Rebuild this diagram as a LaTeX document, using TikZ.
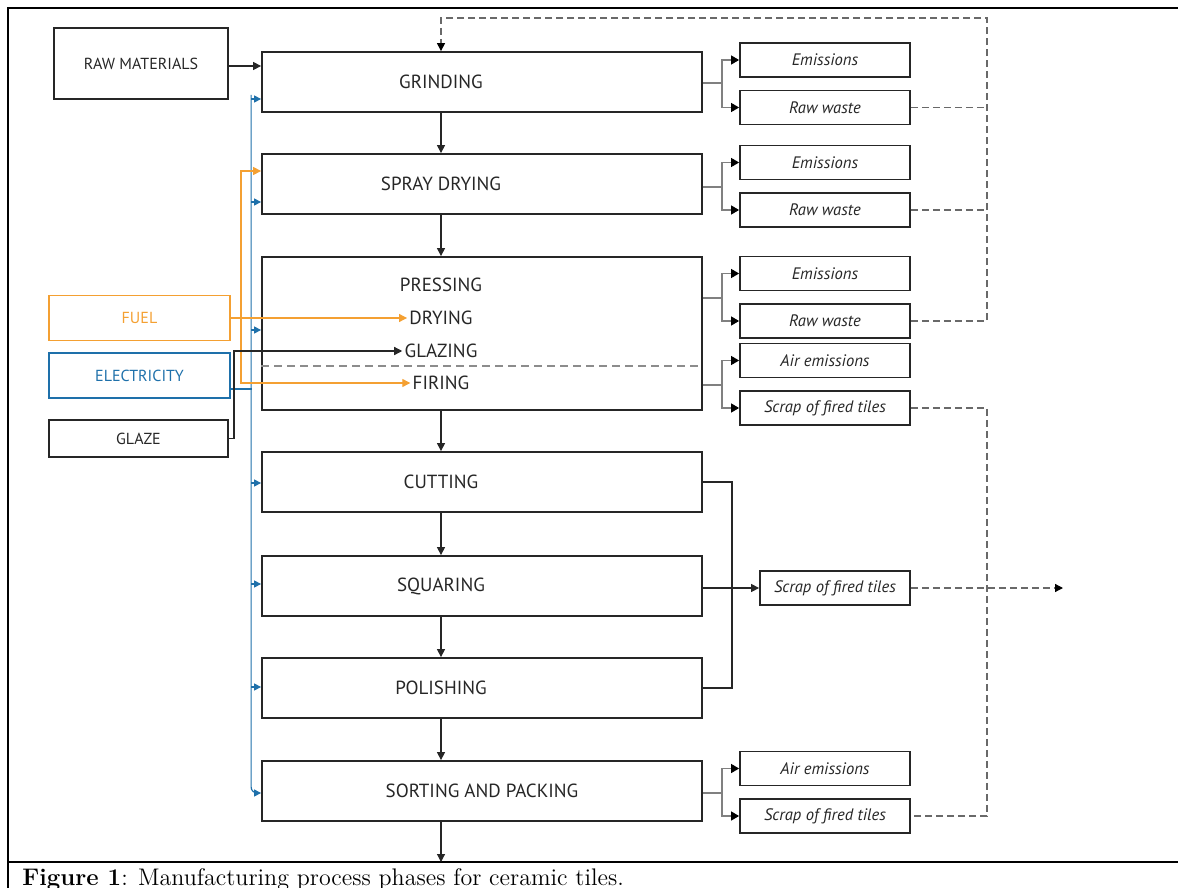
\documentclass[tikz,border=0pt]{standalone}
\usepackage{fontspec}
\newfontfamily\boxfont{PT Sans}
\usetikzlibrary{positioning, arrows.meta, calc}
\definecolor{fuelorange}{RGB}{244,160,50}
\definecolor{elecblue}{RGB}{30,112,170}
\definecolor{wastegray}{RGB}{105,105,105}

\begin{document}
\begin{tikzpicture}[
    x=0.5pt, y=-0.5pt,
    stage/.style={
        rectangle, draw=black!85, line width=0.9pt,
        minimum width=220pt, minimum height=30pt, inner sep=0pt
    },
    stagetxt/.style={
        font=\boxfont\fontsize{9.5}{11}\selectfont, text=black!85, inner sep=1pt
    },
    inbox/.style={
        rectangle, draw=black!85, line width=0.9pt, inner sep=0pt,
        minimum width=90.5pt, minimum height=22.5pt,
        font=\boxfont\fontsize{8}{10}\selectfont, text=black!85
    },
    outbox/.style={
        rectangle, draw=black!85, line width=0.9pt, inner sep=0pt,
        minimum width=85pt, minimum height=17pt,
        font=\boxfont\itshape\fontsize{8.3}{10}\selectfont, text=black!85
    },
    flow/.style={-{Triangle[length=4pt, width=4pt]}, line width=0.6pt, black!85},
    plain/.style={line width=0.6pt, black!85},
    branch/.style={line width=0.6pt, black!50},
    outarr/.style={-{Triangle[length=4pt, width=4.5pt, color=black]}, line width=0.6pt, black!50},
    oline/.style={line width=0.6pt, fuelorange},
    oarrow/.style={-{Triangle[length=4pt, width=4pt]}, line width=0.6pt, fuelorange},
    eline/.style={line width=0.6pt, elecblue},
    earrow/.style={-{Triangle[length=3.5pt, width=3.5pt]}, line width=0.6pt, elecblue},
    sepline/.style={line width=0.6pt, black!45, dash pattern=on 4pt off 2.5pt},
    waste/.style={line width=0.6pt, wastegray, dash pattern=on 3.5pt off 2pt},
    wastearr/.style={waste, -{Triangle[length=4pt, width=4pt, color=black]}},
    frame/.style={line width=1.4pt, black}
]
\useasboundingbox (0,0) rectangle (1178,888);

% --- frame and caption ---
\draw[frame] (8,888) -- (8,8) -- (1178,8);
\draw[frame] (8,862) -- (1178,862);
\node[anchor=base west, inner sep=0pt, font=\fontsize{12}{14}\selectfont] (caption) at (22,885)
    {\textbf{Figure 1}: Manufacturing process phases for ceramic tiles.};

\coordinate (spine) at (441,0);

% --- main stages ---
\node[stage] (grind)    at (482,82)    {};
\node[stage] (spray)    at (482,184)   {};
\node[stage, minimum height=76.5pt] (press) at (482,333.5) {};
\node[stage] (cut)      at (482,482)   {};
\node[stage] (squar)    at (482,586)   {};
\node[stage] (polish)   at (482,688)   {};
\node[stage] (sortpack) at (482,791)   {};

\node[stagetxt] (grindtxt)  at (grind -| spine)  {GRINDING};
\node[stagetxt] (spraytxt)  at (spray -| spine)  {SPRAY DRYING};
\node[stagetxt] (presstxt)  at (441,285)         {PRESSING};
\node[stagetxt] (drylbl)    at (441,318)         {DRYING};
\node[stagetxt] (glzlbl)    at (441,351)         {GLAZING};
\node[stagetxt] (firlbl)    at (441,383)         {FIRING};
\node[stagetxt] (cuttxt)    at (cut -| spine)    {CUTTING};
\node[stagetxt] (squartxt)  at (squar -| spine)  {SQUARING};
\node[stagetxt] (polishtxt) at (polish -| spine) {POLISHING};
\node[stagetxt] (sorttxt)   at (sortpack)        {SORTING AND PACKING};

% --- inputs ---
\node[inbox, minimum width=87pt, minimum height=35.5pt] (raw) at (141,63.5) {RAW MATERIALS};
\node[inbox, draw=fuelorange, text=fuelorange] (fuel) at (139.5,318) {FUEL};
\node[inbox, draw=elecblue, text=elecblue] (elec) at (139.5,375.5) {ELECTRICITY};
\node[inbox, minimum width=89.5pt, minimum height=18.5pt] (glaze) at (138.5,438.5) {GLAZE};

% --- outputs ---
\node[outbox] (em1)  at (825,60)    {Emissions};
\node[outbox] (rw1)  at (825,107.5) {Raw waste};
\node[outbox] (em2)  at (825,162.5) {Emissions};
\node[outbox] (rw2)  at (825,210)   {Raw waste};
\node[outbox] (em3)  at (825,273.5) {Emissions};
\node[outbox] (rw3)  at (825,321)   {Raw waste};
\node[outbox] (air1) at (825,360.5) {Air emissions};
\node[outbox] (scr1) at (825,408)   {Scrap of fired tiles};
\node[outbox, minimum width=75pt] (scr2) at (835,588) {Scrap of fired tiles};
\node[outbox] (air2) at (825,768.5) {Air emissions};
\node[outbox] (scr3) at (825,816)   {Scrap of fired tiles};

% --- main flow ---
\foreach \a/\b in {grind/spray, spray/press, press/cut, cut/squar, squar/polish, polish/sortpack}
    \draw[flow] (\a.south -| spine) -- (\b.north -| spine);
\coordinate (outlet) at (441,862);
\draw[flow] (sortpack.south -| spine) -- (outlet);
\draw[flow] (raw.east |- 0,66) -- (grind.west |- 0,66);

% --- electricity bus ---
\coordinate (ebus) at (252,389);
\draw[eline] (elec.east |- ebus) -- (ebus);
\draw[earrow, rounded corners=3pt] ($(grind.west)+(-10,13)$) -- ($(sortpack.west)+(-10,2)$) -- ($(sortpack.west)+(0,2)$);
\foreach \s/\dy in {grind/17, spray/18, press/-3.5, cut/1, squar/-2, polish/-1}
    \draw[earrow] ($(\s.west)+(-10,\dy)$) -- ($(\s.west)+(0,\dy)$);

% --- fuel ---
\coordinate (ojoin) at (241,318);
\draw[oarrow] (fuel.east) -- (drylbl.west);
\draw[oarrow] (ojoin) |- ($(spray.west)+(0,-13)$);
\draw[oarrow] (ojoin) |- (firlbl.west);

% --- glaze ---
\draw[flow] (glaze.east) -- ++(5,0) |- (glzlbl.west);

% --- firing line inside pressing ---
\draw[sepline] ($(press.west)+(0,32.5)$) -- ($(press.east)+(0,32.5)$);

% --- emissions and waste ---
\foreach \s/\dy/\a/\b in {grind/1/em1/rw1, spray/3/em2/rw2, press/-35.5/em3/rw3, press/51.5/air1/scr1, sortpack/2/air2/scr3}
{
    \draw[branch] ($(\s.east)+(0,\dy)$) -- ++(19,0) coordinate (bj);
    \draw[outarr] (bj) |- (\a.west);
    \draw[outarr] (bj) |- (\b.west);
}
\draw[plain] (cut.east) -- ++(29,0) |- (polish.east);
\draw[flow] (squar.east |- scr2) -- (scr2.west);

% --- recycled raw waste and scrap ---
\coordinate (rtop) at (987,18);
\draw[wastearr] (rw3.east) -| (rtop) -| (grind.north -| spine);
\draw[waste] (rw1.east) -- (rw1.east -| rtop);
\draw[waste] (rw2.east) -- (rw2.east -| rtop);
\draw[waste] (scr1.east) -| (scr3.east -| rtop) -- (scr3.east);
\coordinate (scrout) at (1063,588);
\draw[wastearr] (scr2.east) -- (scrout);

\end{tikzpicture}
\end{document}
